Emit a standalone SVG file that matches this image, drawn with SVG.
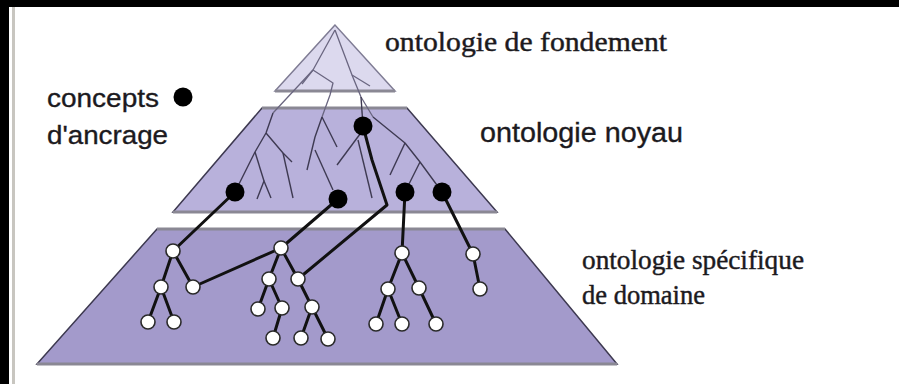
<svg xmlns="http://www.w3.org/2000/svg" width="899" height="384" viewBox="0 0 899 384">
<style>
.txs{font-family:"Liberation Sans",Arial,sans-serif;fill:#1c1a1e;stroke:#1c1a1e;stroke-width:0.35}
.txr{font-family:"Liberation Serif","Times New Roman",serif;fill:#1c1a1e;stroke:#1c1a1e;stroke-width:0.45}
.edge{stroke:#3d3950;stroke-width:1.5}
.base{stroke:#8a8894;stroke-width:3}
.thin{fill:none;stroke:#3e3a52;stroke-width:1.4;stroke-linejoin:round}
.thinl{fill:none;stroke:#6a6680;stroke-width:1.3;stroke-linejoin:round}
.thick{fill:none;stroke:#111;stroke-width:3;stroke-linejoin:round;stroke-linecap:round}
.dot{fill:#000}
.wn{fill:#fff;stroke:#2a2a2a;stroke-width:1.6}
</style>
<rect x="0" y="0" width="899" height="384" fill="#fff"/>
<rect x="0" y="0" width="899" height="7" fill="#000"/>
<rect x="0" y="0" width="9" height="384" fill="#000"/>
<rect x="12" y="7" width="3" height="377" fill="#c8c6c0"/>

<g id="layer-fondement">
<polygon points="335,25 275,91 395,91" fill="#dcd9ee" stroke="#7f7c94" stroke-width="1.5"/>
<line x1="275" y1="91" x2="395" y2="91" class="base" stroke="#a4a2ac"/>
</g>
<g id="layer-noyau">
<polygon points="262,108 407,108 497,212 173,212" fill="#b8b1db" class="edge"/>
<line x1="262" y1="108" x2="407" y2="108" class="base"/>
<line x1="173" y1="212" x2="497" y2="212" class="base"/>
</g>
<g id="layer-domaine">
<polygon points="157,229 505,229 617,364 37,364" fill="#a39acb" class="edge"/>
<line x1="157" y1="229" x2="505" y2="229" class="base"/>
<line x1="37" y1="364" x2="617" y2="364" class="base"/>
</g>

<g id="connectors">
<polyline class="thinl" points="335,30 313,70 273,113"/>
<polyline class="thin" points="273,113 266,133 255,152 235,192"/>
<polyline class="thinl" points="313,70 333,83 330,95 322,117"/>
<polyline class="thin" points="322,117 315,137 307,170"/>
<polyline class="thinl" points="313,70 302,84"/>
<polyline class="thinl" points="335,30 352,75 361,97 373,117"/>
<polyline class="thin" points="373,117 405,143 420,162 442,192"/>
<polyline class="thinl" points="352,75 370,86"/>
<polyline class="thin" points="361,97 363,126"/>
<polyline class="thin" points="266,133 283,153 292,162"/>
<polyline class="thin" points="283,153 293,198"/>
<polyline class="thin" points="255,152 264,181"/>
<polyline class="thin" points="257,199 264,181 271,198"/>
<polyline class="thin" points="322,117 337,147"/>
<polyline class="thin" points="315,150 333,190"/>
<polyline class="thin" points="363,130 337,165"/>
<polyline class="thin" points="358,140 372,198"/>
<polyline class="thin" points="405,143 390,175"/>
<polyline class="thin" points="420,162 405,192"/>

<polyline class="thick" points="235,192 173,251"/>
<polyline class="thick" points="338,199 281,248"/>
<polyline class="thick" points="193,287 281,248"/>
<polyline class="thick" points="363,126 372,160 387,205 298,279"/>
<polyline class="thick" points="405,192 402,253"/>
<polyline class="thick" points="442,192 473,254"/>

<polyline class="thick" points="161,287 173,251 193,287"/>
<polyline class="thick" points="148,322 161,287 174,322"/>
<polyline class="thick" points="269,279 281,248 298,279"/>
<polyline class="thick" points="258,309 269,279 282,308 273,338"/>
<polyline class="thick" points="298,279 312,307"/>
<polyline class="thick" points="301,338 312,307 328,339"/>
<polyline class="thick" points="388,289 402,253 419,288 436,324"/>
<polyline class="thick" points="376,324 388,289 402,324"/>
<polyline class="thick" points="473,254 480,289"/>
</g>

<g id="anchor-dots">
<circle id="d1" class="dot" cx="235" cy="192" r="9.5"/>
<circle id="d2" class="dot" cx="338" cy="199" r="9.5"/>
<circle id="d3" class="dot" cx="363" cy="126" r="9.5"/>
<circle id="d4" class="dot" cx="405" cy="192" r="9.5"/>
<circle id="d5" class="dot" cx="442" cy="192" r="9.5"/>
</g>

<g id="domain-nodes">
<circle class="wn" cx="173" cy="251" r="7"/>
<circle class="wn" cx="161" cy="287" r="7"/>
<circle class="wn" cx="193" cy="287" r="7"/>
<circle class="wn" cx="148" cy="322" r="7"/>
<circle class="wn" cx="174" cy="322" r="7"/>
<circle class="wn" cx="281" cy="248" r="7"/>
<circle class="wn" cx="269" cy="279" r="7"/>
<circle class="wn" cx="298" cy="279" r="7"/>
<circle class="wn" cx="258" cy="309" r="7"/>
<circle class="wn" cx="282" cy="308" r="7"/>
<circle class="wn" cx="312" cy="307" r="7"/>
<circle class="wn" cx="273" cy="338" r="7"/>
<circle class="wn" cx="301" cy="338" r="7"/>
<circle class="wn" cx="328" cy="339" r="7"/>
<circle class="wn" cx="402" cy="253" r="7"/>
<circle class="wn" cx="388" cy="289" r="7"/>
<circle class="wn" cx="419" cy="288" r="7"/>
<circle class="wn" cx="376" cy="324" r="7"/>
<circle class="wn" cx="402" cy="324" r="7"/>
<circle class="wn" cx="436" cy="324" r="7"/>
<circle class="wn" cx="473" cy="254" r="7"/>
<circle class="wn" cx="480" cy="289" r="7"/>
</g>

<g id="legend">
<text class="txs" x="47" y="107" font-size="26" textLength="112" lengthAdjust="spacingAndGlyphs">concepts</text>
<text class="txs" x="47" y="144" font-size="26" textLength="121" lengthAdjust="spacingAndGlyphs">d'ancrage</text>
<circle class="dot" cx="183" cy="97" r="9.5"/>
</g>
<g id="labels">
<text class="txr" x="385" y="51" font-size="28" textLength="282" lengthAdjust="spacingAndGlyphs">ontologie de fondement</text>
<text class="txs" x="480" y="142" font-size="27" textLength="203" lengthAdjust="spacingAndGlyphs">ontologie noyau</text>
<text class="txr" x="582" y="269" font-size="28" textLength="222" lengthAdjust="spacingAndGlyphs">ontologie spécifique</text>
<text class="txr" x="582" y="304" font-size="28" textLength="123" lengthAdjust="spacingAndGlyphs">de domaine</text>
</g>
</svg>
